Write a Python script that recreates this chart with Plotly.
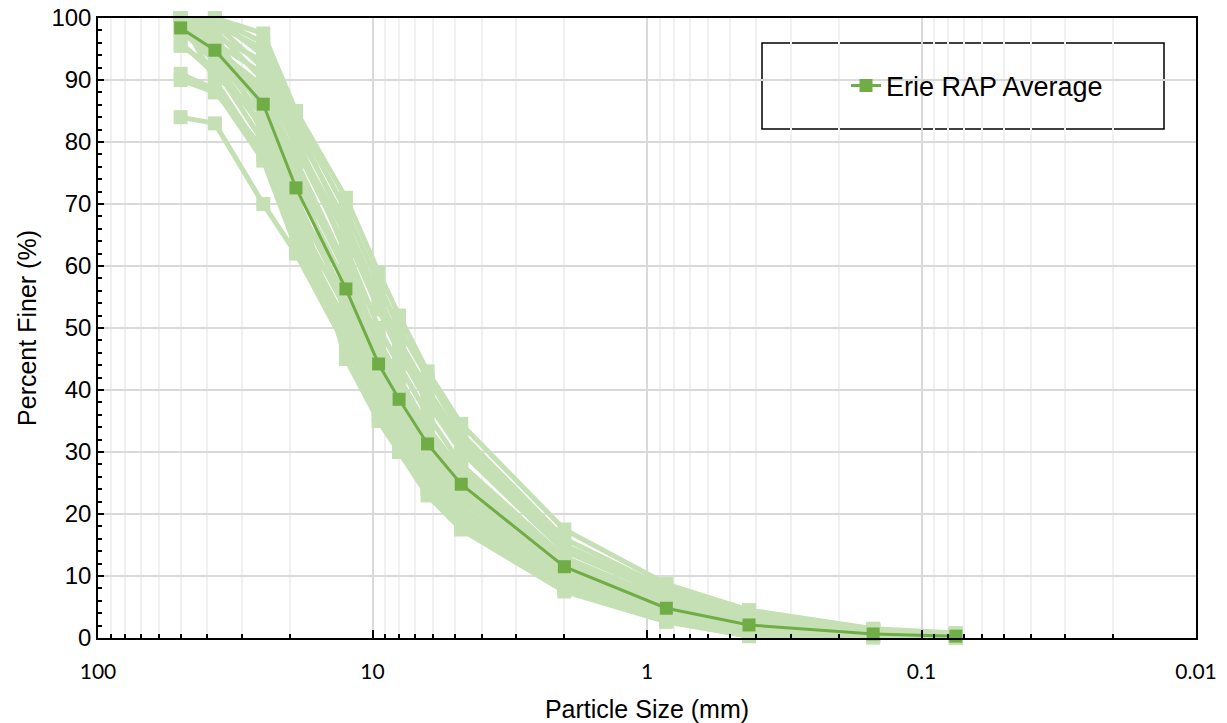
import plotly.graph_objects as go

# Sieve sizes (mm)
sieve_mm = [50, 37.5, 25, 19, 12.5, 9.5, 8, 6.3, 4.75, 2.0, 0.85, 0.425, 0.15, 0.075]

# Individual Erie RAP samples (% finer)
s01 = [100, 100, 97.5, 85, 71, 59, 52, 43, 34.5, 17.5, 8.7, 4.5, 1.5, 0.8]
s02 = [100, 100, 96, 84, 69, 57, 50, 42, 33, 16, 8, 4, 1.3, 0.7]
s03 = [100, 99, 95, 82, 67, 55, 48, 40, 32, 15, 7.5, 3.6, 1.2, 0.7]
s04 = [100, 97, 93, 80, 65, 53, 46, 38, 30, 14, 7, 3.2, 1.1, 0.6]
s05 = [100, 96, 91, 79, 63, 50, 44, 36, 28, 13, 6.2, 3, 1, 0.6]
s06 = [100, 95, 89, 77, 60, 48, 42, 34, 27, 12.5, 5.6, 2.7, 0.9, 0.5]
s07 = [99, 95, 88, 75, 59, 47, 41, 33, 26, 12, 5.3, 2.5, 0.9, 0.5]
s08 = [98, 94, 86, 73, 57, 45, 39, 32, 25, 11.5, 5, 2.3, 0.8, 0.4]
s09 = [100, 94, 84, 70, 55, 43, 37, 30, 24, 11, 4.8, 2.2, 0.8, 0.4]
s10 = [98, 93, 82, 68, 53, 41, 36, 29, 23, 10.5, 4.5, 2, 0.7, 0.3]
s11 = [95.5, 92, 80, 66, 51, 40, 35, 28, 22, 10, 4.3, 1.9, 0.7, 0.3]
s12 = [100, 90, 78, 64, 50, 39, 34, 27.5, 21, 9.5, 4, 1.7, 0.6, 0.3]
s13 = [91, 88.5, 77, 63, 49, 38, 33, 27, 20, 9, 3.6, 1.5, 0.5, 0.2]
s14 = [90, 88, 79, 66, 48, 37, 32, 26, 19.5, 8.5, 3.3, 1.3, 0.5, 0.2]
s15 = [84, 83, 70, 62, 47, 36, 31, 25, 19, 8, 3, 1.1, 0.4, 0.2]
s16 = [100, 98, 90, 76, 52, 40, 30, 23, 17.5, 7.5, 2.6, 0.3, 0.1, 0]
s17 = [100, 99, 92, 81, 62, 47, 40, 31, 24, 11, 4.6, 2.0, 0.7, 0.3]
s18 = [98, 96, 87, 71, 54, 42, 36, 29, 22.5, 10, 4.2, 1.8, 0.6, 0.3]
s19 = [100, 97, 85, 72, 45, 35, 30, 24, 18, 8.2, 2.8, 0.3, 0.1, 0]
s20 = [100, 100, 94, 83, 66, 55, 47, 39, 31, 14.5, 6.8, 3.4, 1.2, 0.6]
s21 = [96, 91, 83, 69, 58, 44, 38, 31, 25, 12, 5.5, 2.6, 0.9, 0.5]
s22 = [100, 98, 81, 67, 50, 39, 34, 28, 20.5, 9, 3.8, 1.6, 0.5, 0.2]
samples = [s01, s02, s03, s04, s05, s06, s07, s08, s09, s10, s11,
           s12, s13, s14, s15, s16, s17, s18, s19, s20, s21, s22]

# Average gradation
average = [98.4, 94.8, 86.1, 72.6, 56.3, 44.2, 38.5, 31.3, 24.8, 11.5, 4.8, 2.1, 0.65, 0.3]

x_major = [100, 10, 1, 0.1, 0.01]
x_major_text = ["100", "10", "1", "0.1", "0.01"]
x_minor = [m * d for d in [10, 1, 0.1, 0.01] for m in range(2, 10)]

LIGHT = "#c5e0b4"
DARK = "#70ad47"

fig = go.Figure()
for s in samples:
    fig.add_trace(go.Scatter(
        x=sieve_mm, y=s, mode="lines+markers", showlegend=False,
        line=dict(color=LIGHT, width=5),
        marker=dict(symbol="square", size=14, color=LIGHT),
        cliponaxis=False, hoverinfo="skip"))

fig.add_trace(go.Scatter(
    x=sieve_mm, y=average, mode="lines+markers", name="Erie RAP Average",
    line=dict(color=DARK, width=3),
    marker=dict(symbol="square", size=13, color=DARK),
    cliponaxis=False))

# Legend frame
fig.add_shape(type="rect", xref="paper", yref="paper",
              x0=(762 - 98) / 1098, x1=(1164 - 98) / 1098,
              y0=(638 - 129) / 620, y1=(638 - 43) / 620,
              line=dict(color="black", width=1.5), fillcolor="white", layer="below")

fig.update_layout(
    width=1227, height=723,
    margin=dict(l=98, r=31, t=18, b=85),
    paper_bgcolor="white", plot_bgcolor="rgba(0,0,0,0)",
    font=dict(family="Liberation Sans, Arial, sans-serif", color="black", size=24),
    showlegend=True,
    legend=dict(x=(846 - 98) / 1098, y=(638 - 86) / 620, xanchor="left", yanchor="middle",
                bgcolor="rgba(0,0,0,0)", borderwidth=0,
                font=dict(size=27, family="Liberation Sans, Arial, sans-serif")),
    xaxis=dict(
        type="log", range=[2, -2], automargin=False,
        tickmode="array", tickvals=x_major, ticktext=x_major_text,
        tickfont=dict(family="Lato, sans-serif", size=21),
        ticklabelstandoff=14,
        ticks="inside", ticklen=8, tickwidth=1.5, tickcolor="black",
        showgrid=True, gridcolor="#d9d9d9", gridwidth=1.5,
        minor=dict(tickmode="array", tickvals=x_minor, ticks="inside", ticklen=4,
                   tickwidth=1.5, tickcolor="black",
                   showgrid=True, gridcolor="#f0f0f0", gridwidth=1.5),
        showline=True, linecolor="black", linewidth=1.5, mirror=True,
        zeroline=False,
        title=dict(text="Particle Size (mm)", font=dict(size=25), standoff=20),
    ),
    yaxis=dict(
        range=[0, 100], tickmode="linear", tick0=0, dtick=10, automargin=False,
        ticks="inside", ticklen=6, tickwidth=1.5, tickcolor="black",
        tickfont=dict(size=24),
        showgrid=True, gridcolor="#d9d9d9", gridwidth=1.5,
        minor=dict(dtick=2, ticks="inside", ticklen=4, tickwidth=1.5,
                   tickcolor="black", showgrid=False),
        showline=True, linecolor="black", linewidth=1.5, mirror=True,
        zeroline=False,
        title=dict(text="Percent Finer (%)", font=dict(size=25), standoff=8),
    ),
)

fig.write_html("out.html")
